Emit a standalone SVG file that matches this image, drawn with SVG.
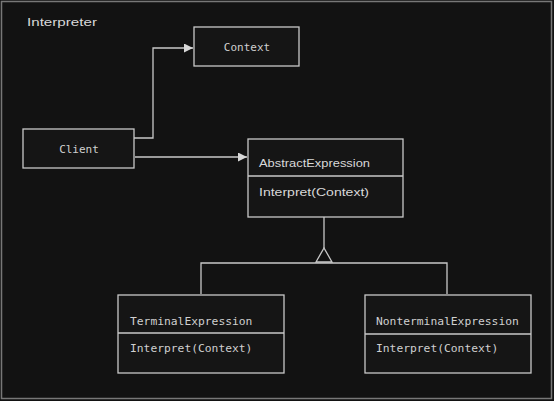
<svg xmlns="http://www.w3.org/2000/svg" width="554" height="401" viewBox="0 0 554 401">
<style>
.box{fill:#151515;stroke:#c8c8c8;stroke-width:1.3}
.ln{fill:none;stroke:#c8c8c8;stroke-width:1.3}
.mono{font-family:"DejaVu Sans Mono","Liberation Mono",monospace;font-size:11px;fill:#d0d0d0}
.mono2{font-family:"DejaVu Sans Mono","Liberation Mono",monospace;font-size:11.3px;fill:#d0d0d0}
.hand{font-family:"Liberation Sans","DejaVu Sans",sans-serif;font-size:11px;fill:#d8d8d8}
</style>
<defs>
<marker id="arr" viewBox="0 0 10 10" refX="10" refY="5" markerWidth="9" markerHeight="9" markerUnits="userSpaceOnUse" orient="auto">
<path d="M0,0 L10,5 L0,10 z" fill="#d8d8d8"/>
</marker>
</defs>
<rect x="0" y="0" width="554" height="401" fill="#121212"/>
<rect x="1.5" y="1.5" width="550" height="397" fill="none" stroke="#777" stroke-width="1.5"/>
<text class="hand" x="27" y="26" textLength="70" lengthAdjust="spacingAndGlyphs">Interpreter</text>
<g id="connectors">
<path class="ln" d="M134,138 H153 V48 H193" marker-end="url(#arr)"/>
<path class="ln" d="M135,157 H247" marker-end="url(#arr)"/>
<path class="ln" d="M324,217 V248"/>
<path class="ln" d="M324,248 L316,262 H332 Z"/>
<path class="ln" d="M201,294 V263 H447 V294"/>
</g>
<g id="context">
<rect class="box" x="194" y="27" width="105" height="39"/>
<text class="mono" x="247" y="51" text-anchor="middle">Context</text>
</g>
<g id="client">
<rect class="box" x="23" y="129" width="111" height="39"/>
<text class="mono" x="79" y="153" text-anchor="middle">Client</text>
</g>
<g id="abstract">
<rect class="box" x="248" y="139" width="155" height="78"/>
<line class="ln" x1="248" y1="176" x2="403" y2="176"/>
<text class="hand" x="259" y="167" textLength="111" lengthAdjust="spacingAndGlyphs">AbstractExpression</text>
<text class="hand" x="259" y="196" textLength="110" lengthAdjust="spacingAndGlyphs">Interpret(Context)</text>
</g>
<g id="terminal">
<rect class="box" x="118" y="295" width="166" height="78"/>
<line class="ln" x1="118" y1="333" x2="284" y2="333"/>
<text class="mono2" x="130" y="325">TerminalExpression</text>
<text class="mono2" x="130" y="352">Interpret(Context)</text>
</g>
<g id="nonterminal">
<rect class="box" x="365" y="295" width="166" height="78"/>
<line class="ln" x1="365" y1="334" x2="531" y2="334"/>
<text class="mono2" x="376" y="325">NonterminalExpression</text>
<text class="mono2" x="376" y="352">Interpret(Context)</text>
</g>
</svg>
